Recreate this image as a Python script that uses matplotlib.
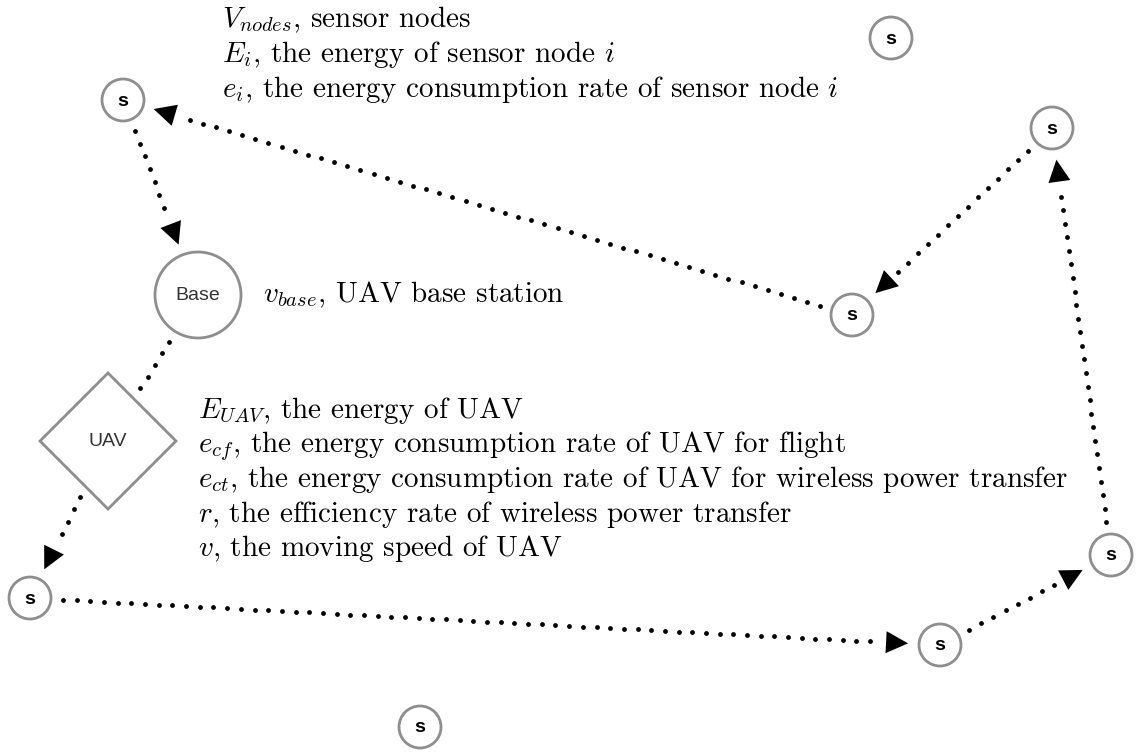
import numpy as np
import matplotlib
matplotlib.use('Agg')
import matplotlib.pyplot as plt
from matplotlib.patches import Circle, Polygon

plt.rcParams['mathtext.fontset'] = 'cm'
plt.rcParams['font.family'] = ['cmr10', 'DejaVu Serif']
plt.rcParams['axes.unicode_minus'] = False

# node positions (image pixels) and kind
node_names = ['s1', 's2', 's3', 's4', 'base', 'uav', 's5', 's6', 's7', 's8']
node_x = [123, 891, 1052, 852, 198, 108, 30, 940, 1111, 420]
node_y = [100, 38, 128, 315, 295, 441, 598, 645, 555, 727]
node_kind = ['s', 's', 's', 's', 'base', 'uav', 's', 's', 's', 's']
node_size = {'s': 21, 'base': 43, 'uav': 68}

# edges of the tour: (from, to, arrow)
edges = [('s1', 'base', True), ('s4', 's1', True), ('s3', 's4', True),
         ('s7', 's3', True), ('s6', 's7', True), ('s5', 's6', True),
         ('uav', 's5', True), ('base', 'uav', False)]

top_lines = [r'$V_{nodes}$, sensor nodes',
             r'$E_i$, the energy of sensor node $i$',
             r'$e_i$, the energy consumption rate of sensor node $i$']
uav_lines = [r'$E_{UAV}$, the energy of UAV',
             r'$e_{cf}$, the energy consumption rate of UAV for flight',
             r'$e_{ct}$, the energy consumption rate of UAV for wireless power transfer',
             r'$r$, the efficiency rate of wireless power transfer',
             r'$v$, the moving speed of UAV']
base_line = r'$v_{base}$, UAV base station'

fig = plt.figure(figsize=(11.39, 7.52), dpi=100)
ax = fig.add_axes([0, 0, 1, 1])
ax.set_xlim(0, 1139)
ax.set_ylim(752, 0)
ax.axis('off')

gray = '#8e8e8e'
pos = {n: np.array([x, y], float) for n, x, y in zip(node_names, node_x, node_y)}
kind = dict(zip(node_names, node_kind))


def edge_dist(n, d):
    # distance from node centre to its outline along direction d
    h = node_size[kind[n]]
    if kind[n] == 'uav':
        return h / (abs(d[0]) + abs(d[1]))
    return h


for n in node_names:
    k = kind[n]
    cx, cy = pos[n]
    if k == 'uav':
        h = node_size[k]
        ax.add_patch(Polygon([[cx, cy - h], [cx + h, cy], [cx, cy + h], [cx - h, cy]],
                             closed=True, fc='white', ec=gray, lw=2, zorder=3))
        ax.text(cx, cy, 'UAV', ha='center', va='center', fontsize=14,
                family='Liberation Sans', color='#333333', zorder=4)
    else:
        ax.add_patch(Circle((cx, cy), node_size[k], fc='white', ec=gray, lw=2, zorder=3))
        if k == 'base':
            ax.text(cx, cy, 'Base', ha='center', va='center', fontsize=14,
                    family='Liberation Sans', color='#333333', zorder=4)
        else:
            ax.text(cx, cy + 1, 's', ha='center', va='center', fontsize=14,
                    family='Liberation Sans', fontweight='bold', color='black', zorder=4)

head = 22
half_w = 11
step = 13.7
for a, b, arrow in edges:
    p, q = pos[a], pos[b]
    d = (q - p) / np.linalg.norm(q - p)
    nrm = np.array([-d[1], d[0]])
    start = p + d * (edge_dist(a, d) + 12)
    if arrow:
        tip = q - d * (edge_dist(b, d) + 11)
        end = tip - d * (head + 5)
    else:
        end = q - d * (edge_dist(b, d) + 7)
    t = np.arange(0, np.linalg.norm(end - start) + 0.1, step)
    dots = start + np.outer(t, d)
    ax.scatter(dots[:, 0], dots[:, 1], s=12, color='black', lw=0, zorder=2)
    if arrow:
        base_c = tip - d * head
        ax.add_patch(Polygon([tip, base_c + nrm * half_w, base_c - nrm * half_w],
                             closed=True, fc='black', ec='none', zorder=2))

for i, s in enumerate(top_lines):
    ax.text(222, 27 + i * 35, s, fontsize=21, ha='left', va='baseline')
for i, s in enumerate(uav_lines):
    ax.text(198, 418 + i * 34.5, s, fontsize=21, ha='left', va='baseline')
ax.text(263, 302, base_line, fontsize=21, ha='left', va='baseline')

fig.savefig('out.png', dpi=100, facecolor='white')
